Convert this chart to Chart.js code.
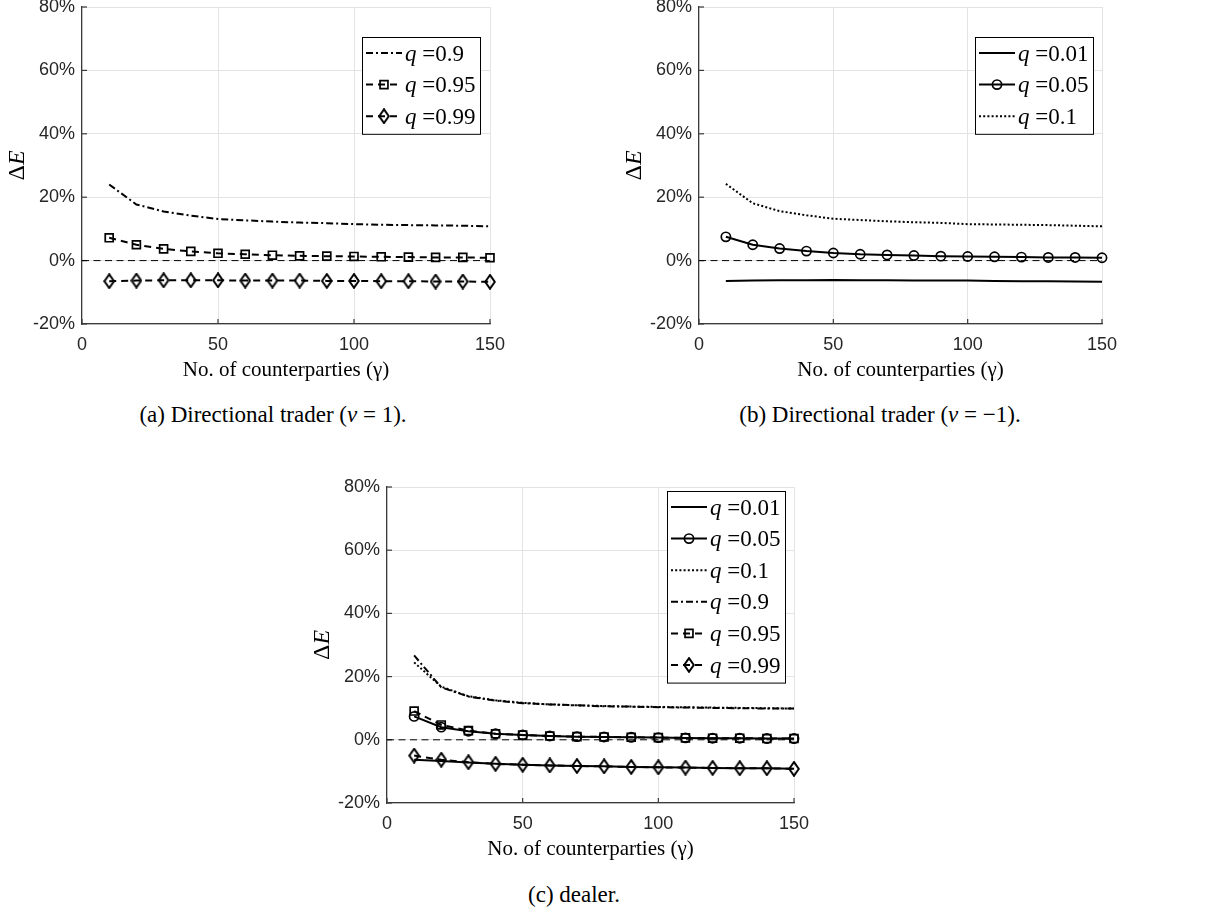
<!DOCTYPE html>
<html><head><meta charset="utf-8">
<script src="https://cdn.jsdelivr.net/npm/chart.js@4.4.0/dist/chart.umd.min.js"></script>
<style>
body{margin:0;background:#fff;width:1207px;height:911px;position:relative;overflow:hidden;}
canvas{position:absolute;}
.cap{position:absolute;font-family:"Liberation Serif",serif;font-size:23px;color:#000;white-space:nowrap;transform:translate(-50%,-50%);}
</style></head><body>
<canvas id="ca"></canvas>
<canvas id="cb"></canvas>
<canvas id="cc"></canvas>
<div class="cap" style="left:273px;top:415px">(a) Directional trader (<i>v</i> = 1).</div>
<div class="cap" style="left:880px;top:415px">(b) Directional trader (<i>v</i> = −1).</div>
<div class="cap" style="left:574px;top:895px">(c) dealer.</div>
<script>
// ---------- data ----------
const gamma = [10,20,30,40,50,60,70,80,90,100,110,120,130,140,150];
const xTicks = [0,50,100,150];
const yTicks = [-20,0,20,40,60,80];
const zeroX = [0,150];
const zeroY = [0,0];

const labelsA = ['0.9','0.95','0.99'];
const a_q090 = [24.0,17.7,15.5,14.2,13.1,12.7,12.3,12.0,11.8,11.5,11.3,11.2,11.1,11.0,10.8];
const a_q095 = [7.2,5.0,3.7,2.9,2.3,2.0,1.7,1.5,1.4,1.3,1.2,1.1,1.0,1.0,0.9];
const a_q099 = [-6.5,-6.3,-6.2,-6.2,-6.2,-6.3,-6.3,-6.3,-6.4,-6.4,-6.5,-6.5,-6.6,-6.6,-6.7];

const labelsB = ['0.01','0.05','0.1'];
const b_q001 = [-6.4,-6.3,-6.2,-6.2,-6.1,-6.2,-6.2,-6.3,-6.3,-6.3,-6.4,-6.5,-6.5,-6.6,-6.7];
const b_q005 = [7.5,5.0,3.8,3.0,2.4,2.0,1.8,1.6,1.4,1.3,1.2,1.1,1.0,1.0,0.9];
const b_q010 = [24.2,18.1,15.6,14.3,13.2,12.8,12.4,12.1,11.9,11.5,11.4,11.3,11.2,11.0,10.8];

const labelsC = ['0.01','0.05','0.1','0.9','0.95','0.99'];
const c_q001 = [-6.3,-6.7,-7.2,-7.6,-7.9,-8.1,-8.3,-8.4,-8.6,-8.7,-8.8,-8.9,-9.0,-9.0,-9.2];
const c_q005 = [7.4,4.0,2.7,1.9,1.5,1.2,1.0,0.9,0.8,0.7,0.6,0.5,0.5,0.4,0.4];
const c_q010 = [24.5,16.8,13.8,12.5,11.7,11.2,10.9,10.7,10.5,10.4,10.3,10.2,10.1,10.0,9.9];
const c_q090 = [26.7,16.6,13.7,12.4,11.6,11.2,10.9,10.6,10.5,10.3,10.2,10.1,10.0,9.9,9.9];
const c_q095 = [9.1,4.7,2.9,1.9,1.5,1.2,1.0,0.9,0.8,0.7,0.6,0.5,0.5,0.4,0.4];
const c_q099 = [-5.0,-6.3,-7.1,-7.6,-7.9,-8.1,-8.3,-8.4,-8.6,-8.7,-8.8,-8.9,-9.0,-9.0,-9.2];

// ---------- styles ----------
function makeDiamond(){
  const c=document.createElement('canvas'); c.width=12; c.height=16;
  const g=c.getContext('2d'); g.strokeStyle='#000'; g.lineWidth=2;
  g.beginPath(); g.moveTo(6,1.2); g.lineTo(10.8,8); g.lineTo(6,14.8); g.lineTo(1.2,8); g.closePath(); g.stroke();
  return c;
}
const diamond = makeDiamond();
const styles = {
  '0.01': {dash:[], point:false},
  '0.05': {dash:[], point:'circle', r:4.6},
  '0.1':  {dash:[2,2.2], point:false},
  '0.9':  {dash:[7,3,2,3], point:false},
  '0.95': {dash:[7,5], point:'rect', r:5.6},
  '0.99': {dash:[7,5], point:diamond, r:6}
};
function ds(label, values){
  const s = styles[label];
  return {
    label, data: gamma.map((g,i)=>({x:g,y:values[i]})),
    borderColor:'#000', borderWidth:2, borderDash:s.dash, tension:0,
    pointStyle: s.point || 'circle', pointRadius: s.point ? s.r : 0,
    pointBorderWidth:1.7, pointBorderColor:'#000', pointBackgroundColor:'rgba(0,0,0,0)',
    clip:false, isSeries:true
  };
}
function zeroDs(){
  return {label:'zero', data: zeroX.map((x,i)=>({x, y:zeroY[i]})), borderColor:'#000', borderWidth:1,
    borderDash:[7,4.5], pointRadius:0, clip:false, isSeries:false};
}

// ---------- plugins ----------
const decor = {
  id:'decor',
  beforeDatasetsDraw(chart){
    const {ctx, chartArea:a, scales:{x,y}} = chart;
    ctx.save(); ctx.strokeStyle='#3a3a3a'; ctx.lineWidth=1.2;
    xTicks.forEach(v=>{const px=x.getPixelForValue(v); ctx.beginPath(); ctx.moveTo(px,a.bottom); ctx.lineTo(px,a.bottom-5); ctx.stroke();});
    yTicks.forEach(v=>{const py=y.getPixelForValue(v); ctx.beginPath(); ctx.moveTo(a.left,py); ctx.lineTo(a.left+5,py); ctx.stroke();});
    ctx.restore();
  },
  afterDraw(chart){
    const {ctx, chartArea:a} = chart;
    // y-axis title ΔE
    ctx.save();
    ctx.translate(18,(a.top+a.bottom)/2); ctx.rotate(-Math.PI/2);
    ctx.fillStyle='#000'; ctx.textBaseline='middle'; ctx.textAlign='left';
    const f1='24px "Liberation Serif"', f2='italic 24px "Liberation Serif"';
    ctx.font=f1; const w1=ctx.measureText('Δ').width;
    ctx.font=f2; const w2=ctx.measureText('E').width;
    const x0=-(w1+w2)/2;
    ctx.font=f1; ctx.fillText('Δ',x0,0);
    ctx.font=f2; ctx.fillText('E',x0+w1,0);
    ctx.restore();
    // legend
    const lg = chart.options.plugins.decor;
    const items = chart.data.datasets.filter(d=>d.isSeries);
    const rowH=31.6, bw=119, bh=items.length*rowH+3;
    const bx=a.right-lg.right-bw, by=a.top+lg.top;
    ctx.save();
    ctx.fillStyle='#fff'; ctx.fillRect(bx,by,bw,bh);
    ctx.strokeStyle='#000'; ctx.lineWidth=1; ctx.strokeRect(bx+0.5,by+0.5,bw-1,bh-1);
    items.forEach((d,i)=>{
      const cy=by+16+i*rowH;
      ctx.strokeStyle='#000'; ctx.lineWidth=d.borderWidth; ctx.setLineDash(d.borderDash);
      ctx.beginPath(); ctx.moveTo(bx+4,cy); ctx.lineTo(bx+40,cy); ctx.stroke();
      ctx.setLineDash([]);
      if(d.pointRadius>0){
        ctx.fillStyle='rgba(0,0,0,0)'; ctx.strokeStyle='#000'; ctx.lineWidth=d.pointBorderWidth;
        Chart.helpers.drawPoint(ctx,{pointStyle:d.pointStyle,radius:d.pointRadius,borderWidth:d.pointBorderWidth,rotation:0},bx+22,cy);
      }
      ctx.fillStyle='#000'; ctx.textBaseline='alphabetic'; ctx.textAlign='left';
      ctx.font='italic 23px "Liberation Serif"'; ctx.fillText('q',bx+43,cy+7.5);
      const wq=ctx.measureText('q').width;
      ctx.font='23px "Liberation Serif"'; ctx.fillText(' ='+d.label,bx+43+wq,cy+7.5);
    });
    ctx.restore();
  }
};

// ---------- chart factory ----------
const CW=570, CH=420, YW=82, PT=27, XH=60;
function makeChart(id, plotLeft, plotTop, plotW, plotH, datasets, legendPos){
  const cv=document.getElementById(id);
  cv.width=CW; cv.height=CH;
  cv.style.left=(plotLeft-YW)+'px'; cv.style.top=(plotTop-PT)+'px';
  const tickFont={family:'"Liberation Sans", Arial, sans-serif', size:18};
  return new Chart(cv,{
    type:'line',
    data:{datasets},
    options:{
      responsive:false, animation:false, devicePixelRatio:1,
      layout:{padding:{left:0, top:PT, right:CW-YW-plotW, bottom:CH-PT-plotH-XH}},
      plugins:{legend:{display:false}, tooltip:{enabled:false}, decor:legendPos},
      scales:{
        x:{type:'linear', min:0, max:150,
          afterBuildTicks:s=>{s.ticks=xTicks.map(v=>({value:v}));},
          afterFit:s=>{s.height=XH; s.paddingLeft=0; s.paddingRight=0;},
          grid:{color:'#e3e3e3', lineWidth:1, drawTicks:false},
          border:{display:true, color:'#3a3a3a', width:1.2},
          ticks:{font:tickFont, color:'#262626', padding:10, maxRotation:0, autoSkip:false},
          title:{display:true, text:'No. of counterparties (γ)', color:'#000',
            font:{family:'"Liberation Serif", serif', size:21}, padding:{top:0,bottom:1}}
        },
        y:{type:'linear', min:-20, max:80,
          afterBuildTicks:s=>{s.ticks=yTicks.map(v=>({value:v}));},
          afterFit:s=>{s.width=YW; s.paddingTop=0; s.paddingBottom=0;},
          grid:{color:'#e3e3e3', lineWidth:1, drawTicks:false},
          border:{display:true, color:'#3a3a3a', width:1.2},
          ticks:{font:tickFont, color:'#262626', padding:7, callback:v=>v+'%'}
        }
      }
    },
    plugins:[decor]
  });
}

makeChart('ca', 82, 7, 408, 317,
  [zeroDs(), ds(labelsA[0],a_q090), ds(labelsA[1],a_q095), ds(labelsA[2],a_q099)], {right:9, top:30});
makeChart('cb', 699, 7, 403, 317,
  [zeroDs(), ds(labelsB[0],b_q001), ds(labelsB[1],b_q005), ds(labelsB[2],b_q010)], {right:8, top:30});
makeChart('cc', 387, 487, 407, 316,
  [zeroDs(), ds(labelsC[0],c_q001), ds(labelsC[1],c_q005), ds(labelsC[2],c_q010),
   ds(labelsC[3],c_q090), ds(labelsC[4],c_q095), ds(labelsC[5],c_q099)], {right:8, top:4});
</script>
</body></html>
